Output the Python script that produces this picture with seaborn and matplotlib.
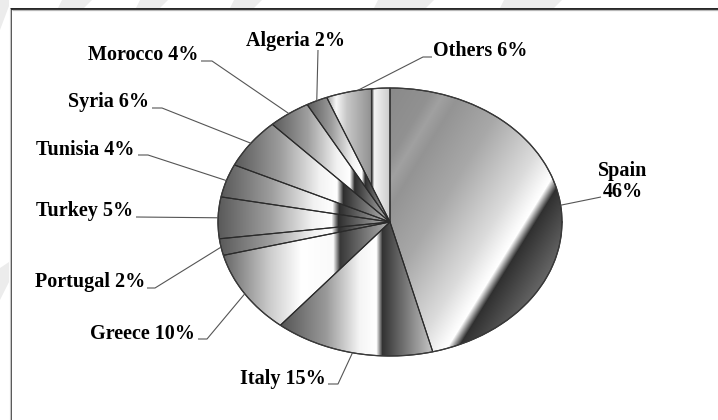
import numpy as np
import matplotlib
matplotlib.use("Agg")
import matplotlib.pyplot as plt
from matplotlib.patches import Polygon
import seaborn as sns

# ---- data -------------------------------------------------------------
countries = ["Spain", "Italy", "Greece", "Portugal", "Turkey",
             "Tunisia", "Syria", "Morocco", "Algeria", "Others"]
shares = [46, 15, 10, 2, 5, 4, 6, 4, 2, 6]

# ---- layout (pixel space of a 718 x 420 canvas) -----------------------
W, H = 718, 420
CX, CY = 390, 222          # pie centre
RX, RY = 172, 134          # horizontal / vertical radius of the ellipse

sns.set_theme(style="white")
plt.rcParams["font.family"] = ["Liberation Serif", "DejaVu Serif"]


def to_data(px, py):
    return (px - CX) / RX, (CY - py) / RY


fig = plt.figure(figsize=(W / 100, H / 100), dpi=100)
fig.patch.set_facecolor("white")

# background layer: faint watermark bands and the chart frame
bg = fig.add_axes([0, 0, 1, 1], zorder=0)
bg.set_xlim(0, W)
bg.set_ylim(H, 0)
bg.axis("off")
band_color = "#ececec"
for x0, x1 in [(62, 92), (140, 168), (234, 262), (378, 434), (504, 562)]:
    bg.add_patch(Polygon([(x0, 0), (x1, 0), (x1 - 8, 8), (x0 - 4, 8)],
                         closed=True, color=band_color, lw=0))
bg.add_patch(Polygon([(0, 0), (9, 0), (9, 6), (0, 30)], closed=True,
                     color=band_color, lw=0))
bg.add_patch(Polygon([(0, 268), (9, 262), (9, 282), (0, 300)], closed=True,
                     color=band_color, lw=0))
bg.plot([11, W], [8.6, 8.6], color="#111111", lw=1.3, solid_capstyle="butt")
bg.plot([12, W], [10.2, 10.2], color="#b8b8b8", lw=0.9, solid_capstyle="butt")
bg.plot([11.4, 11.4], [8, H], color="#222222", lw=1.1, solid_capstyle="butt")
bg.plot([10.0, 10.0], [8, H], color="#c4c4c4", lw=0.8, solid_capstyle="butt")

# pie layer: data space where the pie is a unit circle
ax = fig.add_axes([0, 0, 1, 1], zorder=1)
ax.set_facecolor("none")
wedges, _ = ax.pie(shares, startangle=90, counterclock=False, radius=1,
                   center=(0, 0), colors=["none"] * len(shares),
                   wedgeprops=dict(edgecolor="#2a2a2a", linewidth=0.8))

left, top = to_data(0, 0)
right, bottom = to_data(W, H)

# metallic gradient fills, clipped to each wedge
PX, PY = np.meshgrid(np.arange(W) + 0.5, np.arange(H) + 0.5)
chrome_pos = [0.0, 0.30, 0.55, 0.66, 0.70, 1.0]
chrome_val = [0.35, 0.62, 0.95, 1.0, 0.18, 0.74]
fills = {
    "Spain": ("diag",
              [0.0, 0.16, 0.21, 0.27, 0.45, 0.68, 0.775, 0.795, 0.835, 1.0],
              [0.54, 0.57, 0.63, 0.58, 0.66, 0.86, 0.98, 1.0, 0.19, 0.40]),
    "Italy": ("x", [0.0, 0.30, 0.52, 0.63, 0.67, 1.0],
              [0.33, 0.60, 0.96, 1.0, 0.20, 0.78]),
    "Greece": ("x", [0.0, 0.28, 0.47, 0.66, 0.70, 1.0],
               [0.40, 0.80, 1.0, 0.98, 0.22, 0.70]),
    "Others": ("x", [0.0, 0.15, 0.32, 0.69, 0.71, 0.75, 1.0],
               [0.62, 0.97, 0.78, 0.58, 0.15, 0.96, 0.80]),
}
diag_dir = np.array([130.0, 80.0]) / np.hypot(130.0, 80.0)

for w, name in zip(wedges, countries):
    t = np.radians(np.linspace(w.theta1, w.theta2, 200))
    ex = np.append(CX + RX * np.cos(t), CX)
    ey = np.append(CY - RY * np.sin(t), CY)
    mode, pos, val = fills.get(name, ("x", chrome_pos, chrome_val))
    if mode == "x":
        f = (PX - ex.min()) / (ex.max() - ex.min())
    else:
        proj = ex * diag_dir[0] + ey * diag_dir[1]
        grid = PX * diag_dir[0] + PY * diag_dir[1]
        f = (grid - proj.min()) / (proj.max() - proj.min())
    g = np.interp(np.clip(f, 0, 1), pos, val)
    im = ax.imshow(np.dstack([g, g, g]), extent=(left, right, bottom, top),
                   origin="upper", aspect="auto", interpolation="bilinear",
                   zorder=0.5)
    im.set_clip_path(w)

# outer outline of the ellipse
tt = np.linspace(0, 2 * np.pi, 400)
ax.plot(np.cos(tt), np.sin(tt), color="#3a3a3a", lw=0.9, zorder=2)

# labels and leader lines; anchors sit on the rim at each wedge's mid angle
label_font = dict(fontsize=14.5, fontweight="bold", color="black",
                  family=["Liberation Serif", "DejaVu Serif"])
line_kw = dict(color="#555555", lw=0.8, zorder=3, solid_capstyle="butt")

# (text x, baseline y, alignment, path points from text to rim)
placement = {
    "Spain":    (623, 197, "center", [(601, 197)]),
    "Italy":    (326, 384, "right", [(328, 384), (338, 384)]),
    "Greece":   (195, 339, "right", [(198, 339), (207, 339)]),
    "Portugal": (145, 287, "right", [(147, 288), (155, 288)]),
    "Turkey":   (133, 216, "right", [(136, 217)]),
    "Tunisia":  (134, 155, "right", [(138, 155), (148, 155)]),
    "Syria":    (149, 107, "right", [(152, 108), (162, 108)]),
    "Morocco":  (198, 60, "right", [(201, 61), (212, 61)]),
    "Algeria":  (295, 46, "center", [(318, 50)]),
    "Others":   (433, 56, "left", [(432, 57), (423, 57)]),
}

for w, name, v in zip(wedges, countries, shares):
    mid = np.radians((w.theta1 + w.theta2) / 2)
    anchor = (np.cos(mid), np.sin(mid))
    tx, ty, ha, path = placement[name]
    pts = [to_data(*p) for p in path] + [anchor]
    ax.plot([p[0] for p in pts], [p[1] for p in pts], **line_kw)
    if name == "Spain":
        ax.text(*to_data(tx, 176), name, ha="center", va="baseline",
                **label_font)
        ax.text(*to_data(tx, ty), f"{v}%", ha="center", va="baseline",
                **label_font)
    else:
        ax.text(*to_data(tx, ty), f"{name} {v}%", ha=ha, va="baseline",
                **label_font)

ax.set_aspect("auto")
ax.set_xlim(left, right)
ax.set_ylim(bottom, top)
ax.axis("off")

fig.savefig("out.png", dpi=100, facecolor="white")
